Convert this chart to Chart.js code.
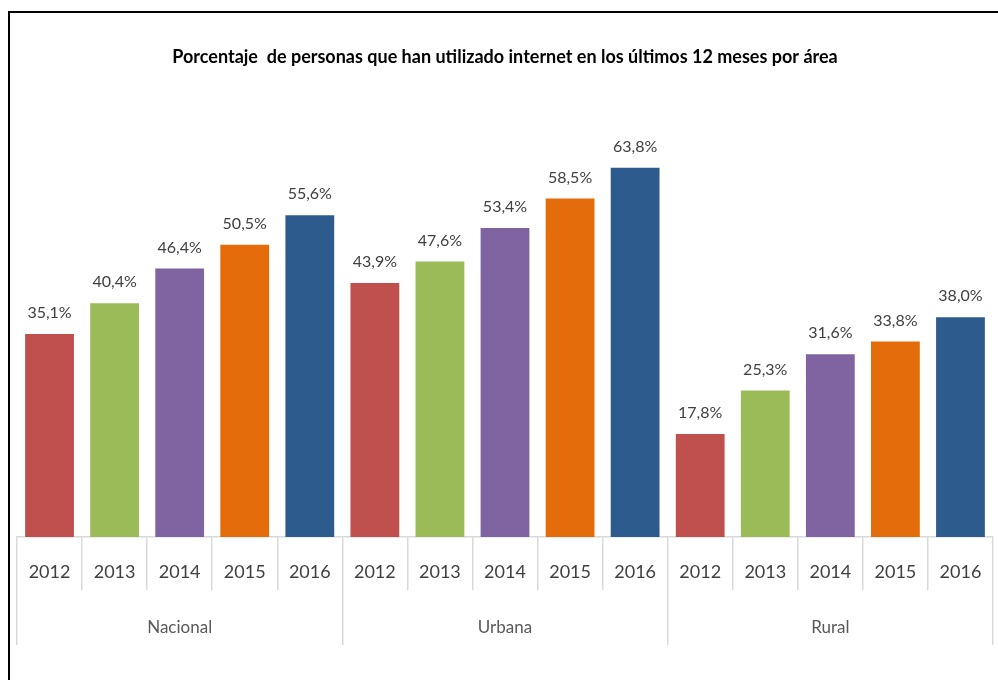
<!DOCTYPE html>
<html>
<head>
<meta charset="utf-8">
<script src="https://cdn.jsdelivr.net/npm/chart.js@4"></script>
<style>
  html, body { margin: 0; padding: 0; background: #fff; }
  #wrap { position: relative; width: 998px; height: 680px; }
  #frame { position: absolute; left: 8px; top: 11px; right: -4px; bottom: -4px; border-top: 2px solid #000; border-left: 2px solid #000; pointer-events: none; z-index: 2; }
  canvas { position: absolute; left: 0; top: 0; }
</style>
</head>
<body>
<div id="wrap">
  <canvas id="c" width="998" height="680"></canvas>
  <div id="frame"></div>
</div>
<script>
const TITLE = "Porcentaje  de personas que han utilizado internet en los últimos 12 meses por área";
const years = ["2012", "2013", "2014", "2015", "2016"];
const groups = ["Nacional", "Urbana", "Rural"];
const nacional = [35.1, 40.4, 46.4, 50.5, 55.6];
const urbana = [43.9, 47.6, 53.4, 58.5, 63.8];
const rural = [17.8, 25.3, 31.6, 33.8, 38.0];
const yearColors = ["#c0504d", "#9bbb59", "#8064a2", "#e46c0a", "#2e5b8e"];

const FONT = "Lato, 'Liberation Sans', sans-serif";

const labels = [];
const values = [];
const colors = [];
[nacional, urbana, rural].forEach((series) => {
  series.forEach((v, i) => {
    labels.push(years[i]);
    values.push(v);
    colors.push(yearColors[i]);
  });
});

const valueLabels = {
  id: 'valueLabels',
  afterDatasetsDraw(chart) {
    const ctx = chart.ctx;
    const meta = chart.getDatasetMeta(0);
    ctx.save();
    ctx.font = "16px " + FONT;
    ctx.fillStyle = "#404040";
    ctx.textAlign = "center";
    ctx.textBaseline = "middle";
    meta.data.forEach((bar, i) => {
      const txt = values[i].toFixed(1).replace('.', ',') + '%';
      ctx.fillText(txt, bar.x, bar.y - 21);
    });
    ctx.restore();
  }
};

new Chart(document.getElementById('c'), {
  type: 'bar',
  data: {
    labels: labels,
    datasets: [{
      data: values,
      backgroundColor: colors,
      borderWidth: 0,
      barPercentage: 0.75,
      categoryPercentage: 1.0,
      xAxisID: 'x'
    }]
  },
  options: {
    responsive: false,
    animation: false,
    devicePixelRatio: 1,
    layout: { padding: { left: 17, right: 5, top: 0, bottom: 35 } },
    plugins: {
      legend: { display: false },
      tooltip: { enabled: false },
      title: {
        display: true,
        text: TITLE,
        color: "#000",
        font: { family: FONT, size: 18, weight: 'bold', lineHeight: 1 },
        padding: { top: 48, bottom: 66 }
      }
    },
    scales: {
      y: {
        display: false,
        min: 0,
        max: 70
      },
      x: {
        type: 'category',
        position: 'bottom',
        afterFit: (s) => { s.height = 53; },
        grid: { offset: true, drawOnChartArea: false, tickLength: 53, color: "#d9d9d9", lineWidth: 1.5 },
        border: { display: true, color: "#d9d9d9", width: 1.5 },
        ticks: { color: "#404040", font: { family: FONT, size: 18, lineHeight: 1 }, padding: -27, maxRotation: 0, autoSkip: false }
      },
      x2: {
        type: 'category',
        position: 'bottom',
        labels: groups,
        afterFit: (s) => { s.height = 55; },
        grid: { offset: true, drawOnChartArea: false, tickLength: 55, color: "#d9d9d9", lineWidth: 1.5 },
        border: { display: false },
        ticks: { color: "#595959", font: { family: FONT, size: 17, lineHeight: 1 }, padding: -26, maxRotation: 0, autoSkip: false }
      }
    }
  },
  plugins: [valueLabels]
});
</script>
</body>
</html>
